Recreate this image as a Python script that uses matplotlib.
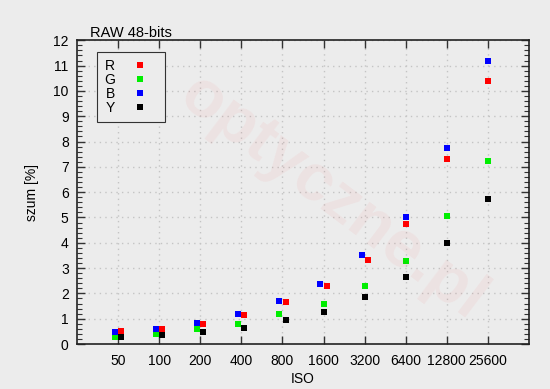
import matplotlib
matplotlib.use("Agg")
import matplotlib.pyplot as plt
from matplotlib.ticker import MultipleLocator, FixedLocator
import numpy as np

iso_labels = ["50", "100", "200", "400", "800", "1600", "3200", "6400", "12800", "25600"]
noise_R = [0.50, 0.60, 0.81, 1.15, 1.66, 2.30, 3.33, 4.75, 7.31, 10.39]
noise_G = [0.29, 0.40, 0.58, 0.80, 1.18, 1.60, 2.31, 3.28, 5.04, 7.24]
noise_B = [0.46, 0.60, 0.84, 1.18, 1.71, 2.38, 3.50, 5.00, 7.75, 11.18]
noise_Y = [0.26, 0.34, 0.46, 0.64, 0.94, 1.28, 1.86, 2.63, 4.01, 5.74]

plt.rcParams['font.family'] = ['Liberation Sans', 'DejaVu Sans']
bg = '#ececec'
fig = plt.figure(figsize=(5.5, 3.89), dpi=100, facecolor=bg)
ax = fig.add_axes([77/550, 1-344/389, 452/550, (344-40.3)/389])
ax.set_facecolor(bg)

x = np.arange(1, len(iso_labels)+1)
# small horizontal dodge where points overlap
d = 0.075
dodge_br = np.where(x <= 7, d, 0.0)
dodge_gy = np.where(x <= 5, d, 0.0)

ms = 5
ax.plot(x + dodge_br, noise_R, 's', color='#ff0000', ms=ms, mew=0, label='R', zorder=3)
ax.plot(x - dodge_gy, noise_G, 's', color='#00ee00', ms=ms, mew=0, label='G', zorder=3)
ax.plot(x - dodge_br, noise_B, 's', color='#0000ff', ms=ms, mew=0, label='B', zorder=3)
ax.plot(x + dodge_gy, noise_Y, 's', color='#000000', ms=ms, mew=0, label='Y', zorder=3)

ax.set_xlim(0, len(iso_labels)+1)
ax.set_ylim(0, 12)
ax.xaxis.set_major_locator(FixedLocator(x))
ax.set_xticklabels(iso_labels)
ax.yaxis.set_major_locator(MultipleLocator(1))
ax.yaxis.set_minor_locator(MultipleLocator(0.2))

ax.grid(True, which='major', color='#c4c4c4', linestyle=(0, (1, 3)), linewidth=1.0)
ax.set_axisbelow(True)

for s in ax.spines.values():
    s.set_color('#222222')
    s.set_linewidth(1.2)

ax.tick_params(axis='both', which='major', direction='in', length=6, width=1,
               color='#333333', labelsize=10, top=True, right=True)
ax.tick_params(axis='y', which='minor', direction='in', length=3.5, width=0.8,
               color='#333333', left=True, right=True)
ax.tick_params(axis='x', which='major', pad=7)
ax.tick_params(axis='y', which='major', pad=6)

ax.set_xlabel('ISO', fontsize=10, labelpad=3)
ax.set_ylabel('szum [%]', fontsize=10, labelpad=10)
fig.text(90/550, 1-37/389, 'RAW 48-bits', fontsize=10.5, ha='left', va='baseline')

leg = ax.legend(loc='upper left', bbox_to_anchor=(20/452, 1-12/303.7), borderaxespad=0,
                markerfirst=False, handlelength=2.6, handletextpad=0.5, labelspacing=0.0,
                borderpad=0.5, fancybox=False, framealpha=1, facecolor=bg,
                edgecolor='#333333', fontsize=10, numpoints=1)
leg.get_frame().set_linewidth(0.8)

# faint watermark
fig.text(332/550, 1-198/389, 'optyczne.pl', fontsize=48, fontweight='bold',
         color='#ff0000', alpha=0.045, rotation=-37, ha='center', va='center',
         rotation_mode='anchor', zorder=0)

fig.savefig('out.png', dpi=100, facecolor=bg)
